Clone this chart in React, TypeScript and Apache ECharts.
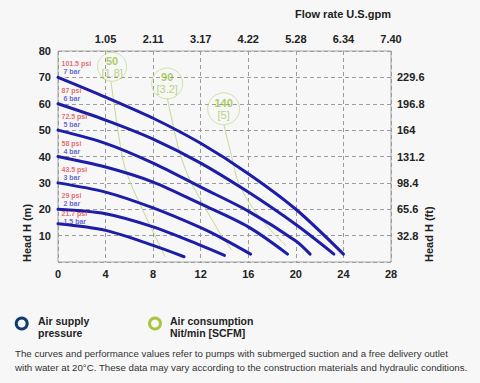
import React, { useEffect, useRef } from "react";
import * as echarts from "echarts";

// Top axis (U.S. gpm) labels at each 4 l/min tick
const gpmLabels = ["", "1.05", "2.11", "3.17", "4.22", "5.28", "6.34", "7.40"];
// Right axis (ft) labels at each 10 m tick
const ftLabels = ["", "32.8", "65.6", "98.4", "131.2", "164", "196.8", "229.6", ""];

const psiLabels = ["101.5 psi", "87 psi", "72.5 psi", "58 psi", "43.5 psi", "29 psi", "21.7 psi"];
const barLabels = ["7 bar", "6 bar", "5 bar", "4 bar", "3 bar", "2 bar", "1.5 bar"];

// Pressure curves: [flow l/min, head m]
const curve7bar = [[0, 70], [4, 62.5], [8, 54.5], [12, 45], [16, 33.5], [20, 20], [24, 3]];
const curve6bar = [[0, 60], [4, 53.8], [8, 46.6], [12, 37.5], [16, 26.5], [20, 14.2], [23.2, 3]];
const curve5bar = [[0, 50], [4, 45], [8, 37.5], [12, 28.4], [16, 19.3], [20, 8], [21.2, 3]];
const curve4bar = [[0, 40], [4, 36], [8, 30.3], [12, 22], [16, 13.3], [19.3, 3]];
const curve3bar = [[0, 30], [4, 26.5], [8, 20.5], [12, 13], [14, 8.5], [16.2, 3]];
const curve2bar = [[0, 20], [4, 18.3], [8, 13.3], [12, 6.3], [14, 2.5]];
const curve15bar = [[0, 14.5], [4, 12], [8, 6.3], [10.6, 2]];
const pressureCurves = [curve7bar, curve6bar, curve5bar, curve4bar, curve3bar, curve2bar, curve15bar];

// Air consumption curves
const airNl = ["50", "90", "140"];
const airScfm = ["[1.8]", "[3.2]", "[5]"];
const airBadgeAt = [[4.55, 74], [9.18, 67.7], [13.93, 58.1]];
const airLine50 = [[4.45, 68.5], [5.4, 40], [6.0, 31], [7.2, 19], [9.0, 2]];
const airLine90 = [[9.2, 62], [10.2, 42], [11.1, 31], [12.2, 22], [13.6, 11], [14.6, 4.5]];
const airLine140 = [[13.95, 52], [14.6, 40], [15.1, 31], [16, 23], [17.5, 14], [19.2, 6]];
const airLines = [airLine50, airLine90, airLine140];

const FONT = '"Liberation Sans", Arial, sans-serif';

export default function App() {
  const ref = useRef<HTMLDivElement>(null);
  useEffect(() => {
    if (!ref.current) return;
    const chart = echarts.init(ref.current, undefined, { renderer: "svg" });
    const tickLabel = { color: "#222", fontSize: 11, fontWeight: "bold" as const, fontFamily: FONT };
    const gridLine = { show: true, lineStyle: { color: "#9c9c9c", type: [4, 3], width: 1 } };
    const badgeSizes = [29, 31, 32];

    const option: any = {
      animation: false,
      backgroundColor: "#f7f7f7",
      textStyle: { fontFamily: FONT },
      grid: {
        left: 58, right: 89, top: 51, bottom: 121,
        show: true, borderColor: "#a5a5a5", borderWidth: 1, backgroundColor: "transparent",
      },
      xAxis: [
        {
          type: "value", min: 0, max: 28, interval: 4, position: "bottom",
          axisLine: { show: false }, axisTick: { show: false },
          axisLabel: { ...tickLabel, margin: 6 },
          splitLine: gridLine,
        },
        {
          type: "value", min: 0, max: 28, interval: 4, position: "top",
          axisLine: { show: false }, axisTick: { show: false },
          axisLabel: { ...tickLabel, margin: 7, formatter: (v: number) => gpmLabels[Math.round(v / 4)] ?? "" },
          splitLine: { show: false },
        },
      ],
      yAxis: [
        {
          type: "value", min: 0, max: 80, interval: 10, position: "left",
          axisLine: { show: false }, axisTick: { show: false },
          axisLabel: { ...tickLabel, margin: 7, formatter: (v: number) => (v === 0 ? "" : String(v)) },
          splitLine: gridLine,
        },
        {
          type: "value", min: 0, max: 80, interval: 10, position: "right",
          axisLine: { show: false }, axisTick: { show: false },
          axisLabel: { ...tickLabel, margin: 6, formatter: (v: number) => ftLabels[Math.round(v / 10)] ?? "" },
          splitLine: { show: false },
        },
      ],
      series: [
        ...airLines.map((d) => ({
          type: "line", data: d, symbol: "none", smooth: 0.3, silent: true, z: 2,
          lineStyle: { color: "#c3d98f", width: 1 },
        })),
        ...pressureCurves.map((d) => ({
          type: "line", data: d, symbol: "none", smooth: 0.3, silent: true, z: 3,
          lineStyle: { color: "#1d1da8", width: 3, cap: "round" },
        })),
        {
          type: "scatter", silent: true, z: 4,
          data: airBadgeAt.map((p, i) => ({
            value: p,
            symbolSize: badgeSizes[i],
            label: { formatter: `{n|${airNl[i]}}\n{s|${airScfm[i]}}` },
          })),
          symbol: "circle",
          itemStyle: { color: "rgba(255,255,255,0)", borderColor: "#c5dc97", borderWidth: 1 },
          label: {
            show: true, position: "inside",
            rich: {
              n: { fontSize: 11, fontWeight: "bold", color: "#98c13a", lineHeight: 12, fontFamily: FONT, align: "center" },
              s: { fontSize: 11, color: "#a5c95a", lineHeight: 12, fontFamily: FONT, align: "center" },
            },
          },
        },
        {
          type: "scatter", silent: true, z: 5,
          symbolSize: 1,
          itemStyle: { color: "rgba(0,0,0,0)" },
          data: pressureCurves.map((c, i) => ({
            value: c[0],
            label: {
              formatter: `{p|${psiLabels[i]}}\n{b|${barLabels[i]}}`,
              position: i === pressureCurves.length - 1 ? [4, -14] : [4, -17],
            },
          })),
          label: {
            show: true, position: [4, -17], align: "left", verticalAlign: "top",
            rich: {
              p: { fontSize: 7, fontWeight: "bold", color: "#e0474c", lineHeight: 8, fontFamily: FONT },
              b: { fontSize: 7, fontWeight: "bold", color: "#4343c4", lineHeight: 8, fontFamily: FONT, padding: [0, 0, 0, 2] },
            },
          },
        },
      ],
      graphic: [
        {
          type: "text", x: 343, y: 14,
          style: { text: "Flow rate U.S.gpm", font: `bold 11px ${FONT}`, fill: "#222", textAlign: "center", textVerticalAlign: "middle" },
        },
        {
          type: "text", x: 27, y: 262, rotation: Math.PI / 2,
          style: { text: "Head H (m)", font: `bold 11px ${FONT}`, fill: "#222", textAlign: "left", textVerticalAlign: "middle" },
        },
        {
          type: "text", x: 429, y: 262, rotation: Math.PI / 2,
          style: { text: "Head H (ft)", font: `bold 11px ${FONT}`, fill: "#222", textAlign: "left", textVerticalAlign: "middle" },
        },
        { type: "ring", shape: { cx: 21.7, cy: 323.5, r: 7, r0: 4 }, style: { fill: "#0f3b6c" } },
        {
          type: "text", x: 38, y: 321,
          style: { text: "Air supply", font: `bold 10.5px ${FONT}`, fill: "#222", textAlign: "left", textVerticalAlign: "middle" },
        },
        {
          type: "text", x: 38, y: 333,
          style: { text: "pressure", font: `bold 10.5px ${FONT}`, fill: "#222", textAlign: "left", textVerticalAlign: "middle" },
        },
        { type: "ring", shape: { cx: 155, cy: 323.5, r: 7, r0: 4 }, style: { fill: "#a9c53e" } },
        {
          type: "text", x: 170, y: 321,
          style: { text: "Air consumption", font: `bold 10.5px ${FONT}`, fill: "#222", textAlign: "left", textVerticalAlign: "middle" },
        },
        {
          type: "text", x: 170, y: 333,
          style: { text: "Nit/min [SCFM]", font: `bold 10.5px ${FONT}`, fill: "#222", textAlign: "left", textVerticalAlign: "middle" },
        },
        {
          type: "text", x: 15, y: 353,
          style: { text: "The curves and performance values refer to pumps with submerged suction and a free delivery outlet", font: `9.7px ${FONT}`, fill: "#333", textAlign: "left", textVerticalAlign: "middle" },
        },
        {
          type: "text", x: 15, y: 367,
          style: { text: "with water at 20°C. These data may vary according to the construction materials and hydraulic conditions.", font: `9.7px ${FONT}`, fill: "#333", textAlign: "left", textVerticalAlign: "middle" },
        },
      ],
    };
    chart.setOption(option);
    return () => chart.dispose();
  }, []);
  return <div ref={ref} style={{ position: "fixed", left: 0, top: 0, width: 480, height: 383 }} />;
}
